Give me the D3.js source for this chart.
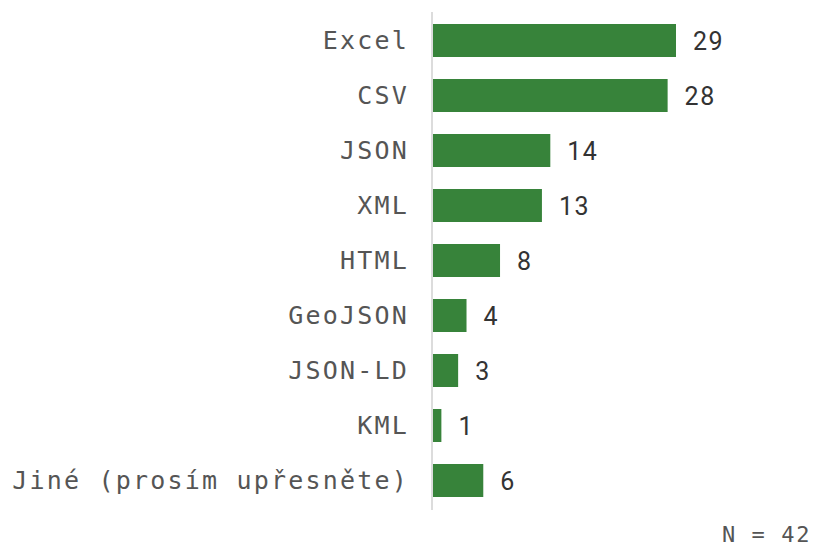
<!DOCTYPE html>
<html lang="cs">
<head>
<meta charset="UTF-8" />
<script src="https://d3js.org/d3.v7.min.js"></script>
<style>
  body { margin: 0; background: #fff; }
</style>
</head>
<body>
<script>
  var categories = ["Excel", "CSV", "JSON", "XML", "HTML", "GeoJSON", "JSON-LD", "KML", "Jiné (prosím upřesněte)"];
  var values = [29, 28, 14, 13, 8, 4, 3, 1, 6];
  var note = "N = 42";

  var w = 815;
  var h = 548;
  var left = 433;

  var svg = d3.select("body")
    .append("svg")
    .attr("width", w)
    .attr("height", h);

  var xScale = d3.scaleLinear()
    .domain([0, 29])
    .range([left, 676]);

  var yScale = d3.scaleBand()
    .domain(categories)
    .range([13, 508])
    .paddingInner(0.4)
    .paddingOuter(0.2);

  // axis line
  svg.append("line")
    .attr("x1", left - 1)
    .attr("x2", left - 1)
    .attr("y1", 12)
    .attr("y2", 510)
    .attr("stroke", "#dcdcdc")
    .attr("stroke-width", 2);

  svg.selectAll("rect.bar")
    .data(values)
    .enter()
    .append("rect")
    .attr("class", "bar")
    .attr("x", xScale(0))
    .attr("y", function (d, i) { return yScale(categories[i]); })
    .attr("width", function (d) { return xScale(d) - xScale(0); })
    .attr("height", yScale.bandwidth())
    .attr("fill", "#37833a");

  svg.selectAll("text.val")
    .data(values)
    .enter()
    .append("text")
    .attr("class", "val")
    .text(function (d) { return d; })
    .attr("x", function (d) { return xScale(d) + 17; })
    .attr("y", function (d, i) { return yScale(categories[i]) + yScale.bandwidth() / 2 + 9; })
    .attr("font-family", "Roboto, sans-serif")
    .attr("font-size", "25px")
    .attr("letter-spacing", "1.5px")
    .attr("fill", "#333");

  svg.selectAll("text.cat")
    .data(categories)
    .enter()
    .append("text")
    .attr("class", "cat")
    .text(function (d) { return d; })
    .attr("text-anchor", "end")
    .attr("x", 409)
    .attr("y", function (d) { return yScale(d) + yScale.bandwidth() / 2 + 8; })
    .attr("font-family", "'DejaVu Sans Mono', 'Liberation Mono', monospace")
    .attr("font-size", "25px")
    .attr("letter-spacing", "2.2px")
    .attr("fill", "#555");

  svg.append("text")
    .text(note)
    .attr("text-anchor", "end")
    .attr("x", 811)
    .attr("y", 542)
    .attr("font-family", "'DejaVu Sans Mono', 'Liberation Mono', monospace")
    .attr("font-size", "22px")
    .attr("letter-spacing", "1.6px")
    .attr("fill", "#555");
</script>
</body>
</html>
